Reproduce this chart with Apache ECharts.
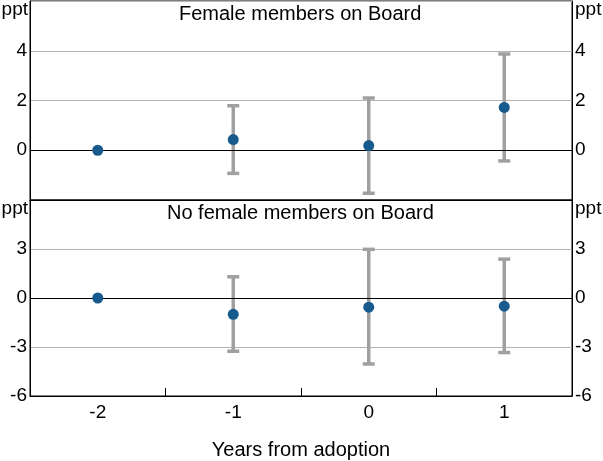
<!DOCTYPE html>
<html>
<head>
<meta charset="utf-8">
<script src="https://cdn.jsdelivr.net/npm/echarts@6/dist/echarts.min.js"></script>
<style>html,body{margin:0;padding:0;background:#fff}#c{width:603px;height:461px}</style>
</head>
<body>
<div id="c"></div>
<script>
var categories = ['-2', '-1', '0', '1'];
var topTitle = 'Female members on Board';
var bottomTitle = 'No female members on Board';
var topPoint = [0, 0.43, 0.19, 1.72];
var topLow = [null, -0.93, -1.73, -0.43];
var topHigh = [null, 1.79, 2.10, 3.87];
var bottomPoint = [0, -1.0, -0.56, -0.5];
var bottomLow = [null, -3.26, -4.04, -3.34];
var bottomHigh = [null, 1.30, 2.98, 2.38];
var xName = 'Years from adoption';
var unit = 'ppt';

var FONT = 'Liberation Sans, Arial, sans-serif';
var BLUE = '#175b8e';
var GREY_BAR = '#a0a0a0';
var GRID_C = '#b4b4b4';

function errData(low, high) {
  var d = [];
  for (var i = 0; i < categories.length; i++) {
    if (low[i] != null) d.push([i, low[i], high[i]]);
  }
  return d;
}
function renderErr(params, api) {
  var x = api.value(0);
  var lo = api.coord([x, api.value(1)]);
  var hi = api.coord([x, api.value(2)]);
  var half = 6;
  var st = { stroke: GREY_BAR, lineWidth: 3.5 };
  return {
    type: 'group',
    children: [
      { type: 'line', shape: { x1: lo[0], y1: lo[1], x2: hi[0], y2: hi[1] }, style: st },
      { type: 'line', shape: { x1: lo[0] - half, y1: lo[1], x2: lo[0] + half, y2: lo[1] }, style: st },
      { type: 'line', shape: { x1: hi[0] - half, y1: hi[1], x2: hi[0] + half, y2: hi[1] }, style: st }
    ]
  };
}
function yAx(gi, pos, min, max, interval, showMin) {
  return {
    type: 'value', gridIndex: gi, position: pos, min: min, max: max, interval: interval,
    axisLine: { show: true, onZero: false, lineStyle: { color: '#000', width: 1 } },
    axisTick: { show: false },
    splitLine: { show: pos === 'left', lineStyle: { color: GRID_C, width: 1 } },
    axisLabel: { show: true, color: '#000', fontSize: 19, fontFamily: FONT, margin: 3,
      showMinLabel: showMin, showMaxLabel: false }
  };
}
function zeroLine() {
  return { silent: true, symbol: 'none', label: { show: false },
    lineStyle: { color: '#000', width: 1, type: 'solid' },
    data: [{ yAxis: 0 }] };
}

var option = {
  animation: false,
  backgroundColor: '#fff',
  grid: [
    { left: 30, right: 31, top: 1, height: 199, show: true, borderColor: '#000', borderWidth: 1, backgroundColor: 'transparent' },
    { left: 30, right: 31, top: 200, height: 200, show: true, borderColor: '#000', borderWidth: 1, backgroundColor: 'transparent' }
  ],
  xAxis: [
    { type: 'category', gridIndex: 0, data: categories,
      axisLine: { show: true, onZero: false, lineStyle: { color: '#000' } }, axisTick: { show: false }, axisLabel: { show: false } },
    { type: 'category', gridIndex: 1, data: categories,
      axisLine: { show: true, onZero: false, lineStyle: { color: '#000' } },
      axisTick: { show: true, inside: true, length: 8, lineStyle: { color: '#000' } },
      axisLabel: { show: true, color: '#000', fontSize: 19, fontFamily: FONT, margin: 7 },
      name: xName, nameLocation: 'middle', nameGap: 44,
      nameTextStyle: { color: '#000', fontSize: 20, fontFamily: FONT } }
  ],
  yAxis: [
    yAx(0, 'left', -2, 6, 2, false),
    yAx(0, 'right', -2, 6, 2, false),
    yAx(1, 'left', -6, 6, 3, true),
    yAx(1, 'right', -6, 6, 3, true)
  ],
  graphic: [
    { type: 'text', left: 179, top: 4, style: { text: topTitle, fill: '#000', font: '20px ' + FONT } },
    { type: 'text', left: 167, top: 203, style: { text: bottomTitle, fill: '#000', font: '20px ' + FONT } },
    { type: 'text', right: 575, top: 0, style: { text: unit, fill: '#000', font: '19px ' + FONT } },
    { type: 'text', left: 575, top: 0, style: { text: unit, fill: '#000', font: '19px ' + FONT } },
    { type: 'text', right: 575, top: 199, style: { text: unit, fill: '#000', font: '19px ' + FONT } },
    { type: 'text', left: 575, top: 199, style: { text: unit, fill: '#000', font: '19px ' + FONT } }
  ],
  series: [
    { type: 'custom', xAxisIndex: 0, yAxisIndex: 0, renderItem: renderErr, data: errData(topLow, topHigh),
      encode: { x: 0, y: [1, 2] }, z: 2, markLine: zeroLine() },
    { type: 'scatter', xAxisIndex: 0, yAxisIndex: 0, data: topPoint, symbolSize: 11,
      itemStyle: { color: BLUE, opacity: 1 }, z: 5 },
    { type: 'custom', xAxisIndex: 1, yAxisIndex: 2, renderItem: renderErr, data: errData(bottomLow, bottomHigh),
      encode: { x: 0, y: [1, 2] }, z: 2, markLine: zeroLine() },
    { type: 'scatter', xAxisIndex: 1, yAxisIndex: 2, data: bottomPoint, symbolSize: 11,
      itemStyle: { color: BLUE, opacity: 1 }, z: 5 }
  ]
};
var chart = echarts.init(document.getElementById('c'));
chart.setOption(option);
</script>
</body>
</html>
